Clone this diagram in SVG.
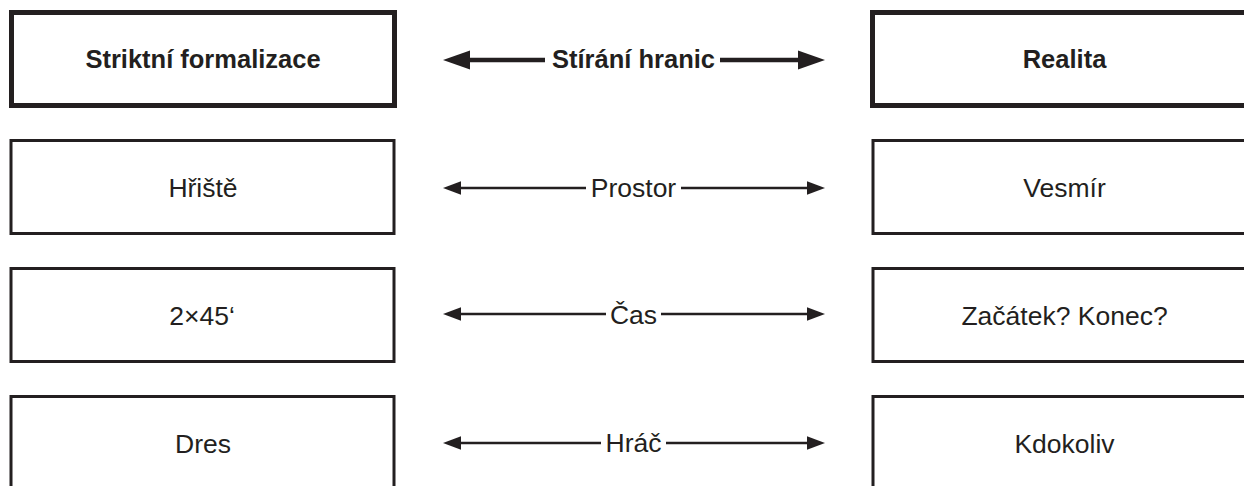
<svg xmlns="http://www.w3.org/2000/svg" width="1244" height="486" viewBox="0 0 1244 486">
  <style>
    .box { fill: #ffffff; stroke: #231f20; }
    .thick { stroke-width: 5; }
    .thin { stroke-width: 3; }
    .t { font-family: "Liberation Sans", Arial, Helvetica, sans-serif; fill: #231f20; text-anchor: middle; }
    .b { font-weight: bold; font-size: 25.5px; }
    .r { font-size: 26.5px; }
    .lnB { stroke: #231f20; stroke-width: 4.5; fill: none; }
    .lnT { stroke: #231f20; stroke-width: 2.5; fill: none; }
  </style>
  <defs>
    <marker id="headB" markerUnits="userSpaceOnUse" viewBox="0 0 27 19" markerWidth="27" markerHeight="19" refX="1" refY="9.5" orient="auto" overflow="visible">
      <path d="M0,0 L27,9.5 L0,19 Z" fill="#231f20"/>
    </marker>
    <marker id="headT" markerUnits="userSpaceOnUse" viewBox="0 0 18 13.4" markerWidth="18" markerHeight="13.4" refX="1" refY="6.7" orient="auto" overflow="visible">
      <path d="M0,0 L18,6.7 L0,13.4 Z" fill="#231f20"/>
    </marker>
  </defs>

  <g id="node-striktni">
    <rect class="box thick" x="11.5" y="12.5" width="383" height="93"/>
    <text class="t b" x="203" y="68">Striktní formalizace</text>
  </g>
  <g id="node-realita">
    <rect class="box thick" x="872.5" y="12.5" width="400" height="93"/>
    <text class="t b" x="1064.5" y="68">Realita</text>
  </g>

  <g id="node-hriste">
    <rect class="box thin" x="11" y="140.5" width="383" height="93"/>
    <text class="t r" x="203" y="196.5">Hřiště</text>
  </g>
  <g id="node-vesmir">
    <rect class="box thin" x="873" y="140.5" width="400" height="93"/>
    <text class="t r" x="1064.5" y="196.5">Vesmír</text>
  </g>

  <g id="node-2x45">
    <rect class="box thin" x="11" y="268.5" width="383" height="93"/>
    <text class="t r" x="202" y="324.5">2×45‘</text>
  </g>
  <g id="node-zacatek">
    <rect class="box thin" x="873" y="268.5" width="400" height="93"/>
    <text class="t r" x="1064.5" y="324.5">Začátek? Konec?</text>
  </g>

  <g id="node-dres">
    <rect class="box thin" x="11" y="396.5" width="383" height="93"/>
    <text class="t r" x="203" y="452.5">Dres</text>
  </g>
  <g id="node-kdokoliv">
    <rect class="box thin" x="873" y="396.5" width="400" height="93"/>
    <text class="t r" x="1064.5" y="452.5">Kdokoliv</text>
  </g>

  <g id="connectors">
    <line class="lnB" x1="545" y1="60" x2="469" y2="60" marker-end="url(#headB)"/>
    <line class="lnB" x1="720" y1="60" x2="799" y2="60" marker-end="url(#headB)"/>
    <text class="t b" x="633.5" y="68">Stírání hranic</text>

    <line class="lnT" x1="586" y1="188" x2="460" y2="188" marker-end="url(#headT)"/>
    <line class="lnT" x1="681" y1="188" x2="808" y2="188" marker-end="url(#headT)"/>
    <text class="t r" x="633.5" y="196.5">Prostor</text>

    <line class="lnT" x1="606" y1="314" x2="460" y2="314" marker-end="url(#headT)"/>
    <line class="lnT" x1="661" y1="314" x2="808" y2="314" marker-end="url(#headT)"/>
    <text class="t r" x="633.5" y="324">Čas</text>

    <line class="lnT" x1="601" y1="443" x2="460" y2="443" marker-end="url(#headT)"/>
    <line class="lnT" x1="666" y1="443" x2="808" y2="443" marker-end="url(#headT)"/>
    <text class="t r" x="633.5" y="452">Hráč</text>
  </g>
</svg>
